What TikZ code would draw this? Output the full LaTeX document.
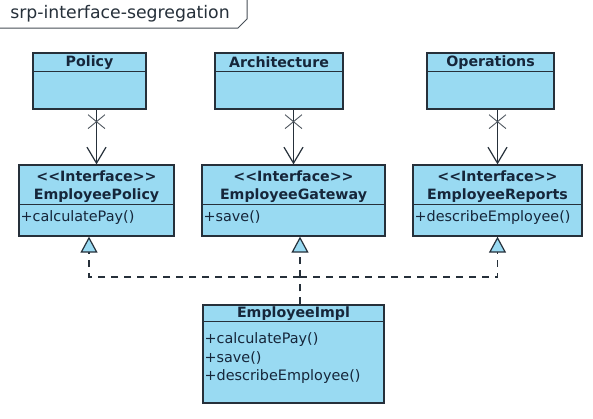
\documentclass[tikz,border=0pt]{standalone}
\usepackage{fontspec}
\setmainfont{DejaVu Sans}
\usetikzlibrary{arrows.meta,shapes.misc}
\definecolor{umlfill}{RGB}{153,218,242}
\definecolor{umlline}{RGB}{38,48,58}
\definecolor{umltext}{RGB}{22,38,58}

\begin{document}
\begin{tikzpicture}[x=1pt, y=-1pt,
	box/.style={draw=umlline, fill=umlfill, line width=1.3pt, inner sep=0pt},
	sep/.style={draw=umlline, line width=1.2pt},
	head/.style={font=\fontsize{14.2}{16}\selectfont\bfseries, text=umltext, inner sep=0pt},
	op/.style={font=\fontsize{14.4}{16}\selectfont, text=umltext, anchor=west, inner sep=0pt},
	assoc/.style={draw=umlline, line width=1.2pt, -{Straight Barb[length=16pt, width=19pt, line width=1.2pt]}},
	noend/.style={cross out, draw=umlline!80, line width=.9pt, minimum width=16pt, minimum height=13pt, inner sep=0pt},
	realize/.style={draw=umlline, line width=1.2pt, dash pattern=on 7pt off 6pt},
	impl/.style={realize, -{Triangle[fill=umlfill, length=16pt, width=17pt, line width=1.2pt]}}]
	\useasboundingbox[fill=white] (0,0) rectangle (593,418);

	% frame tab
	\draw[umlline!85, line width=1pt] (0,28) -- (238,28) -- (247,19) -- (247,-2);
	\node[font=\fontsize{17.3}{20}\selectfont, text=umlline, inner sep=0pt] (frame) at (120,14) {srp-interface-segregation};

	% clients
	\node[box, minimum width=113pt, minimum height=56pt] (pol)  at (89.5,81)  {};
	\node[box, minimum width=128pt, minimum height=56pt] (arch) at (279,81)   {};
	\node[box, minimum width=127pt, minimum height=56pt] (ops)  at (490.5,81) {};
	\foreach \c in {pol,arch,ops}
		\draw[sep] ([yshift=-19pt]\c.north west) -- ([yshift=-19pt]\c.north east);
	\node[head] (poln)  at ([yshift=-10pt]pol.north)  {Policy};
	\node[head] (archn) at ([yshift=-10pt]arch.north) {Architecture};
	\node[head] (opsn)  at ([yshift=-10pt]ops.north)  {Operations};

	% interfaces
	\node[box, minimum width=155pt, minimum height=71pt] (epol) at (96.5,200.5)  {};
	\node[box, minimum width=183pt, minimum height=71pt] (egw)  at (293.5,200.5) {};
	\node[box, minimum width=169pt, minimum height=71pt] (erep) at (497.5,200.5) {};
	\foreach \c in {epol,egw,erep}
		\draw[sep] ([yshift=-40pt]\c.north west) -- ([yshift=-40pt]\c.north east);
	\node[head] (epols) at ([yshift=-11.5pt]epol.north) {<{}<Interface>{}>};
	\node[head] (egws)  at ([yshift=-11.5pt]egw.north)  {<{}<Interface>{}>};
	\node[head] (ereps) at ([yshift=-11.5pt]erep.north) {<{}<Interface>{}>};
	\node[head] (epoln) at ([yshift=-31pt]epol.north) {EmployeePolicy};
	\node[head] (egwn)  at ([yshift=-31pt]egw.north)  {EmployeeGateway};
	\node[head] (erepn) at ([yshift=-31pt]erep.north) {EmployeeReports};
	\node[op] (epolo) at ([xshift=2pt, yshift=-53pt]epol.north west) {+calculatePay()};
	\node[op] (egwo)  at ([xshift=2pt, yshift=-53pt]egw.north west)  {+save()};
	\node[op] (erepo) at ([xshift=2pt, yshift=-53pt]erep.north west) {+describeEmployee()};

	% implementation
	\node[box, minimum width=181pt, minimum height=98pt] (emp) at (293.5,354) {};
	\draw[sep] ([yshift=-17pt]emp.north west) -- ([yshift=-17pt]emp.north east);
	\node[head] (empn) at ([yshift=-9.5pt]emp.north) {EmployeeImpl};
	\node[op] (empo1) at ([xshift=2pt, yshift=-35pt]emp.north west) {+calculatePay()};
	\node[op] (empo2) at ([xshift=2pt, yshift=-54pt]emp.north west) {+save()};
	\node[op] (empo3) at ([xshift=2pt, yshift=-72pt]emp.north west) {+describeEmployee()};

	% associations
	\draw[assoc] (epol.north |- pol.south) -- (epol.north);
	\draw[assoc] (egw.north |- arch.south) -- (egw.north);
	\draw[assoc] (erep.north |- ops.south) -- (erep.north);
	\node[noend] (x1) at ([yshift=-12pt]epol.north |- pol.south) {};
	\node[noend] (x2) at ([yshift=-12pt]egw.north |- arch.south) {};
	\node[noend] (x3) at ([yshift=-12pt]erep.north |- ops.south) {};

	% realizations
	\coordinate (j) at (300,277);
	\draw[realize] ([xshift=6.5pt]emp.north) -- (j);
	\draw[impl] (j) -| ([xshift=-7.5pt]epol.south);
	\draw[impl] (j) -- ([xshift=6.5pt]egw.south);
	\draw[impl] (j) -| (erep.south);
\end{tikzpicture}
\end{document}
